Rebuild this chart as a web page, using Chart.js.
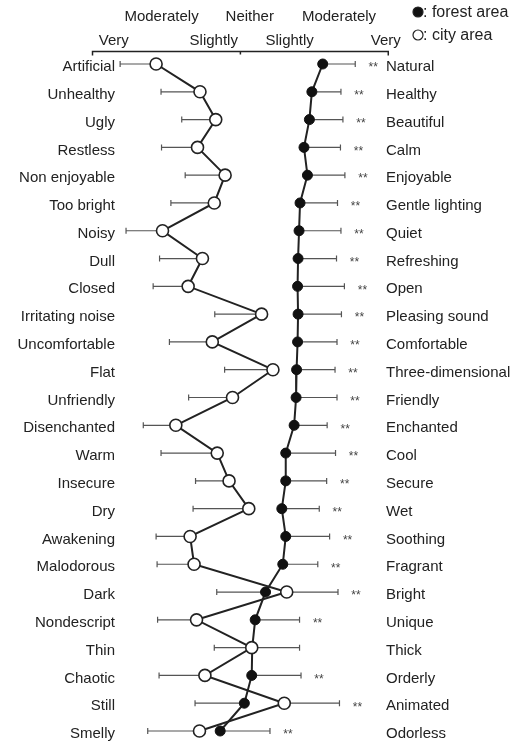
<!DOCTYPE html>
<html>
<head>
<meta charset="utf-8">
<script src="https://cdn.jsdelivr.net/npm/chart.js@4.4.1/dist/chart.umd.min.js"></script>
<style>
  html, body { margin: 0; padding: 0; background: #fff; }
  #wrap { width: 523px; height: 743px; }
</style>
</head>
<body>
<div id="wrap"><canvas id="profile"></canvas></div>
<script>
// adjective pairs (negative pole on the left, positive pole on the right)
const leftLabels = ['Artificial', 'Unhealthy', 'Ugly', 'Restless', 'Non enjoyable', 'Too bright', 'Noisy',
  'Dull', 'Closed', 'Irritating noise', 'Uncomfortable', 'Flat', 'Unfriendly', 'Disenchanted', 'Warm',
  'Insecure', 'Dry', 'Awakening', 'Malodorous', 'Dark', 'Nondescript', 'Thin', 'Chaotic', 'Still', 'Smelly'];
const rightLabels = ['Natural', 'Healthy', 'Beautiful', 'Calm', 'Enjoyable', 'Gentle lighting', 'Quiet',
  'Refreshing', 'Open', 'Pleasing sound', 'Comfortable', 'Three-dimensional', 'Friendly', 'Enchanted', 'Cool',
  'Secure', 'Wet', 'Soothing', 'Fragrant', 'Bright', 'Unique', 'Thick', 'Orderly', 'Animated', 'Odorless'];

// mean scores, 1 = very (left word) ... 7 = very (right word)
const forestMean = [5.67, 5.45, 5.40, 5.29, 5.36, 5.21, 5.19, 5.17, 5.16, 5.17, 5.16, 5.14, 5.13, 5.09,
  4.92, 4.92, 4.84, 4.92, 4.86, 4.51, 4.30, 4.24, 4.23, 4.08, 3.59];
const forestSd = [0.66, 0.59, 0.68, 0.74, 0.76, 0.76, 0.85, 0.78, 0.95, 0.88, 0.80, 0.78, 0.83, 0.67,
  1.01, 0.83, 0.76, 0.89, 0.71, 0.99, 0.90, 0.96, 1.00, 1.00, 1.01];
const cityMean = [2.29, 3.18, 3.50, 3.13, 3.69, 3.47, 2.42, 3.23, 2.94, 4.43, 3.43, 4.66, 3.84, 2.69,
  3.53, 3.77, 4.17, 2.98, 3.06, 4.94, 3.11, 4.23, 3.28, 4.89, 3.17];
const citySd = [0.73, 0.79, 0.69, 0.73, 0.81, 0.88, 0.74, 0.87, 0.71, 0.95, 0.87, 0.98, 0.89, 0.66,
  1.14, 0.68, 1.13, 0.69, 0.75, 1.04, 0.79, 0.76, 0.93, 1.12, 1.05];
const signif = ['**', '**', '**', '**', '**', '**', '**', '**', '**', '**', '**', '**', '**', '**',
  '**', '**', '**', '**', '**', '**', '**', '', '**', '**', '**'];

// scale words on the top axis
const scaleValues = [1, 2, 3, 4, 5, 6, 7];
const scaleWords = ['Very', 'Moderately', 'Slightly', 'Neither', 'Slightly', 'Moderately', 'Very'];

// style / layout
const ink = '#222';
const fnt = 'Liberation Sans, Arial, sans-serif';
const wordNudge = [0.43, 0.40, 0.46, 0.19, 0, 0, -0.05]; // the printed words sit a bit off their tick

// error bars point away from the other group's mean
const errorBars = {
  id: 'errorBars',
  beforeDatasetsDraw(chart) {
    const ctx = chart.ctx, x = chart.scales.x, y = chart.scales.y;
    ctx.save();
    ctx.strokeStyle = '#555';
    ctx.lineWidth = 1.2;
    const bar = (v, d, py) => {
      const a = x.getPixelForValue(v), b = x.getPixelForValue(v + d);
      ctx.beginPath();
      ctx.moveTo(a, py); ctx.lineTo(b, py);
      ctx.moveTo(b, py - 3); ctx.lineTo(b, py + 3);
      ctx.stroke();
      return Math.max(a, b);
    };
    ctx.font = '12px ' + fnt;
    ctx.fillStyle = '#444';
    ctx.textAlign = 'center';
    ctx.textBaseline = 'middle';
    for (let i = 0; i < leftLabels.length; i++) {
      const py = y.getPixelForValue(i);
      const dir = forestMean[i] >= cityMean[i] ? 1 : -1;
      const r1 = bar(forestMean[i], dir * forestSd[i], py);
      const r2 = bar(cityMean[i], -dir * citySd[i], py);
      if (signif[i]) ctx.fillText(signif[i], Math.max(r1, r2) + 18, py + 4);
    }
    ctx.restore();
  }
};

// scale line above the plot + legend in the top right corner
const frame = {
  id: 'frame',
  afterDraw(chart) {
    const ctx = chart.ctx, x = chart.scales.x;
    const a = x.getPixelForValue(1), b = x.getPixelForValue(7), m = x.getPixelForValue(4);
    const ly = 51.5;
    ctx.save();
    ctx.strokeStyle = ink;
    ctx.lineWidth = 1.5;
    ctx.beginPath();
    ctx.moveTo(a, ly + 4); ctx.lineTo(a, ly); ctx.lineTo(b, ly); ctx.lineTo(b, ly + 4);
    ctx.moveTo(m, ly); ctx.lineTo(m, ly + 3);
    ctx.stroke();

    ctx.font = '16px ' + fnt;
    ctx.textAlign = 'left';
    ctx.textBaseline = 'middle';
    chart.data.datasets.forEach((ds, k) => {
      const cy = 12 + k * 23;
      ctx.beginPath();
      ctx.arc(418, cy, 5, 0, Math.PI * 2);
      ctx.fillStyle = ds.pointBackgroundColor;
      ctx.fill();
      ctx.lineWidth = 1.2;
      ctx.strokeStyle = ink;
      ctx.stroke();
      ctx.fillStyle = ink;
      ctx.fillText(': ' + ds.label, 423, cy + 1);
    });
    ctx.restore();
  }
};

new Chart(document.getElementById('profile'), {
  type: 'line',
  data: {
    labels: leftLabels,
    datasets: [
      {
        label: 'forest area',
        data: forestMean,
        borderColor: ink,
        borderWidth: 2,
        pointRadius: 5,
        pointBackgroundColor: '#111',
        pointBorderColor: '#111',
        pointBorderWidth: 1,
        clip: false,
        order: 2
      },
      {
        label: 'city area',
        data: cityMean,
        borderColor: ink,
        borderWidth: 2,
        pointRadius: 6,
        pointBackgroundColor: '#fff',
        pointBorderColor: ink,
        pointBorderWidth: 1.6,
        clip: false,
        order: 1
      }
    ]
  },
  options: {
    indexAxis: 'y',
    responsive: true,
    maintainAspectRatio: false,
    animation: false,
    devicePixelRatio: 1,
    layout: { padding: { top: 0, bottom: 7, left: 0, right: 0 } },
    plugins: { legend: { display: false }, tooltip: { enabled: false } },
    scales: {
      x: {
        type: 'linear',
        position: 'top',
        min: 1.517,
        max: 6.893,
        grid: { display: false, drawTicks: false },
        border: { display: false },
        afterBuildTicks: function (scale) {
          scale.ticks = scaleValues.map((v, i) => ({ value: v + wordNudge[i] }));
        },
        afterFit: function (scale) { scale.height = 64; },
        ticks: {
          autoSkip: false,
          maxRotation: 0,
          padding: 11,
          color: ink,
          font: { family: fnt, size: 15, lineHeight: 1.6 },
          callback: function (value, index) {
            // alternate rows: 2,4,6 on the upper line
            return index % 2 === 1 ? [scaleWords[index], ''] : ['', scaleWords[index]];
          }
        }
      },
      y: {
        type: 'category',
        position: 'left',
        grid: { display: false, drawTicks: false },
        border: { display: false },
        afterFit: function (scale) { scale.width = 118; },
        ticks: { autoSkip: false, padding: 3, labelOffset: 3, color: ink, font: { family: fnt, size: 15 } }
      },
      y2: {
        type: 'category',
        position: 'right',
        labels: rightLabels,
        grid: { display: false, drawTicks: false },
        border: { display: false },
        afterFit: function (scale) { scale.width = 140; },
        ticks: { autoSkip: false, padding: 3, labelOffset: 3, color: ink, font: { family: fnt, size: 15 } }
      }
    }
  },
  plugins: [errorBars, frame]
});
</script>
</body>
</html>
